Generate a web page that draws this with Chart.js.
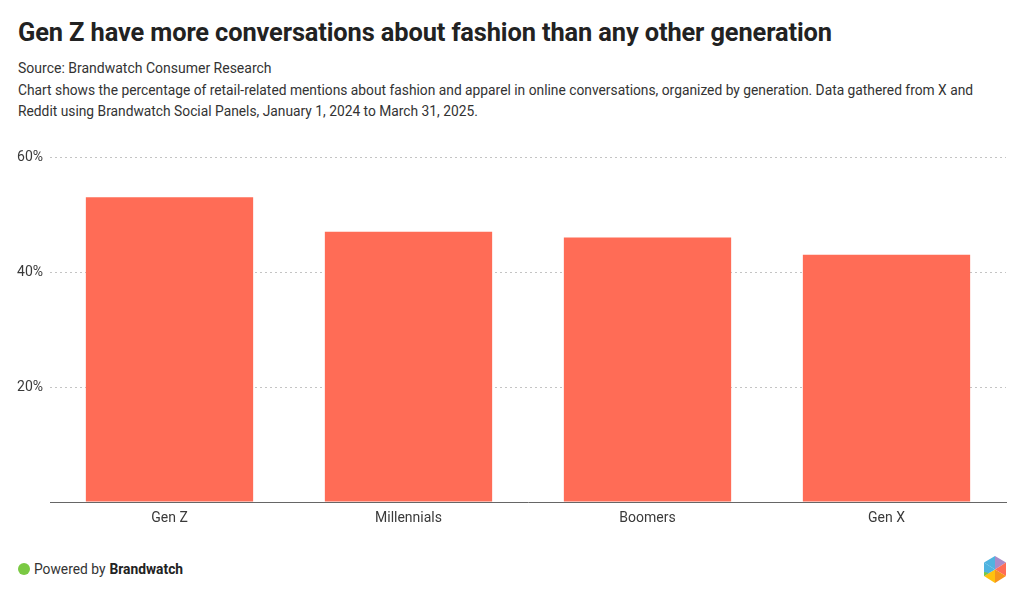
<!DOCTYPE html>
<html>
<head>
<meta charset="utf-8">
<script src="https://cdn.jsdelivr.net/npm/chart.js@4"></script>
<style>
  html, body { margin: 0; padding: 0; background: #fff; }
  body { width: 1024px; height: 599px; position: relative; overflow: hidden; font-family: Roboto, "Noto Sans", sans-serif; color: #222; }
  h1 { position: absolute; left: 18px; top: 17px; margin: 0; font-size: 25.4px; font-weight: 700; color: #222; letter-spacing: -0.12px; }
  .source { position: absolute; left: 18px; top: 60px; font-size: 14px; color: #333; }
  .desc { position: absolute; left: 18px; top: 80px; width: 990px; font-size: 13.8px; line-height: 21px; color: #333; }
  .chart-wrap { position: absolute; left: 0; top: 140px; width: 1024px; height: 400px; }
  .footer { position: absolute; left: 18px; top: 561px; font-size: 13.8px; color: #333; display: flex; align-items: center; }
  .dot { width: 12px; height: 12px; border-radius: 50%; background: #7ac943; margin-right: 4px; }
  .footer b { margin-left: 4px; color: #222; }
  .logo { position: absolute; left: 983px; top: 556px; }
</style>
</head>
<body>
<h1>Gen Z have more conversations about fashion than any other generation</h1>
<div class="source">Source: Brandwatch Consumer Research</div>
<div class="desc">Chart shows the percentage of retail-related mentions about fashion and apparel in online conversations, organized by generation. Data gathered from X and Reddit using Brandwatch Social Panels, January 1, 2024 to March 31, 2025.</div>
<div class="chart-wrap"><canvas id="chart"></canvas></div>
<div class="footer"><span class="dot"></span>Powered by<b>Brandwatch</b></div>
<svg class="logo" width="24" height="27" viewBox="0 0 24 27">
  <polygon points="12,0 23,6.5 12,13.5" fill="#a98bc9"/>
  <polygon points="23,6.5 23,20 12,13.5" fill="#ff6c56"/>
  <polygon points="23,20 12,27 12,13.5" fill="#f7941d"/>
  <polygon points="12,27 1,20 12,13.5" fill="#ffc20e"/>
  <polygon points="1,20 1,6.5 12,13.5" fill="#4fb3e0"/>
  <polygon points="1,6.5 12,0 12,13.5" fill="#4fb3e0"/>
  <polygon points="1,20 1,16 6,17" fill="#7ac943"/>
</svg>
<script>
const generations = ['Gen Z', 'Millennials', 'Boomers', 'Gen X'];
const sharePercent = [53, 47, 46, 43];
const yTicks = [0, 20, 40, 60];

const barColor = '#ff6c56';
const textColor = '#3a3a3a';

new Chart(document.getElementById('chart'), {
  type: 'bar',
  data: {
    labels: generations,
    datasets: [{
      data: sharePercent,
      backgroundColor: barColor,
      borderWidth: 0,
      barPercentage: 0.7,
      categoryPercentage: 1,
    }],
  },
  options: {
    responsive: true,
    maintainAspectRatio: false,
    animation: false,
    layout: { padding: { top: 17, right: 18, left: 0, bottom: 0 } },
    plugins: { legend: { display: false }, tooltip: { enabled: false } },
    scales: {
      x: {
        grid: { display: false },
        border: { display: true, color: '#666', width: 1 },
        ticks: { color: textColor, font: { family: 'Roboto', size: 14 }, padding: 0 },
        afterFit: (scale) => { scale.height = 38; },
      },
      y: {
        min: 0,
        max: 60,
        afterBuildTicks: (scale) => { scale.ticks = yTicks.map((v) => ({ value: v })); },
        afterFit: (scale) => { scale.width = 50; },
        border: { display: false, dash: [2, 3] },
        grid: {
          color: (ctx) => (ctx.tick && ctx.tick.value === 0 ? 'rgba(0,0,0,0)' : '#c4c4c4'),
          drawTicks: false,
        },
        ticks: {
          color: textColor,
          font: { family: 'Roboto', size: 14 },
          padding: 7,
          callback: (v) => (v === 0 ? '' : v + '%'),
        },
      },
    },
  },
});
</script>
</body>
</html>
